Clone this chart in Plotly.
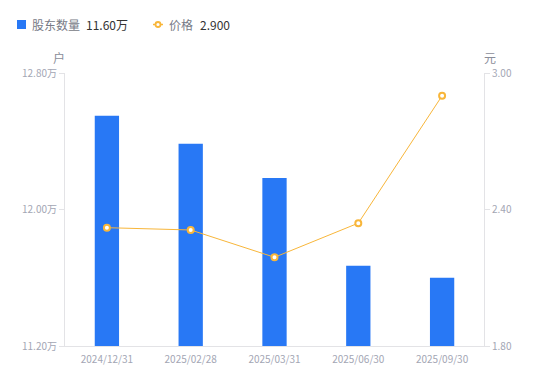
import plotly.graph_objects as go

categories = ["2024/12/31", "2025/02/28", "2025/03/31", "2025/06/30", "2025/09/30"]
holders = [12.55, 12.385, 12.185, 11.67, 11.60]   # 万户
price = [2.32, 2.31, 2.19, 2.34, 2.90]              # 元
left_ticks = [11.2, 12.0, 12.8]
left_labels = ["11.20万", "12.00万", "12.80万"]
right_ticks = [1.8, 2.4, 3.0]
right_labels = ["1.80", "2.40", "3.00"]

FONT = "Noto Sans CJK SC, Noto Sans, sans-serif"
TICK_COLOR = "#a3a6b4"
AXIS_LINE = "#e3e3e6"
BLUE = "#2878f5"
ORANGE = "#f8b63a"

OFF = 8  # page body margin in the browser
W, H = 550 - OFF, 381 - OFF
# plot area in screen pixels: x 65..484, y 73..346
L, T = 65 - OFF, 73 - OFF
R, B = W - (484 - OFF), H - (346 - OFF)
PW, PH = W - L - R, H - T - B


def px(x):
    return (x - OFF - L) / PW


def py(y):
    return (H - B - (y - OFF)) / PH


fig = go.Figure()
fig.add_trace(go.Bar(
    x=categories, y=holders, name="股东数量",
    marker=dict(color=BLUE, line=dict(width=0)), width=0.29, yaxis="y",
))
fig.add_trace(go.Scatter(
    x=categories, y=price, name="价格",
    mode="lines+markers", yaxis="y2", cliponaxis=False,
    line=dict(color=ORANGE, width=1),
    marker=dict(symbol="circle", size=6, color="white", line=dict(color=ORANGE, width=2)),
))

shapes = [
    dict(type="rect", xref="paper", yref="paper", x0=px(17), x1=px(26), y0=py(29), y1=py(20),
         fillcolor=BLUE, line=dict(width=0)),
    dict(type="line", xref="paper", yref="paper", x0=px(153), x1=px(163), y0=py(24.5), y1=py(24.5),
         line=dict(color=ORANGE, width=1.5)),
    dict(type="circle", xref="paper", yref="paper", x0=px(155.5), x1=px(160.5), y0=py(27), y1=py(22),
         fillcolor="white", line=dict(color=ORANGE, width=1.8)),
]


def ann(text, x, y, size, color, xanchor="left"):
    return dict(text=text, xref="paper", yref="paper", x=px(x), y=py(y), xanchor=xanchor,
                yanchor="middle", showarrow=False, font=dict(size=size, color=color, family=FONT))


annotations = [
    ann("股东数量", 30, 24.5, 12, "#777a86"),
    ann("11.60万", 84, 24.5, 12, "#333333"),
    ann("价格", 167, 24.5, 12, "#777a86"),
    ann("2.900", 198, 24.5, 12, "#333333"),
    ann("户", 59, 57, 12, "#8a8d99", "center"),
    ann("元", 490, 57, 12, "#8a8d99", "center"),
]

fig.update_layout(
    width=W, height=H,
    margin=dict(l=L, r=R, t=T, b=B, autoexpand=False),
    paper_bgcolor="white", plot_bgcolor="white",
    font=dict(family=FONT, size=11, color=TICK_COLOR),
    showlegend=False,
    bargap=0.7,
    shapes=shapes,
    annotations=annotations,
    xaxis=dict(showgrid=False, showline=True, linecolor=AXIS_LINE, linewidth=1,
               ticks="outside", ticklen=4, tickcolor="rgba(0,0,0,0)",
               tickfont=dict(size=10, color=TICK_COLOR), fixedrange=True),
    yaxis=dict(range=[11.2, 12.8], tickvals=left_ticks, ticktext=left_labels,
               showgrid=False, zeroline=False, showline=True, linecolor=AXIS_LINE,
               ticks="outside", ticklen=5, tickcolor=AXIS_LINE,
               tickfont=dict(size=10, color=TICK_COLOR)),
    yaxis2=dict(range=[1.8, 3.0], tickvals=right_ticks, ticktext=right_labels,
                overlaying="y", side="right", showgrid=False, zeroline=False,
                showline=True, linecolor=AXIS_LINE, ticks="outside", ticklen=5,
                tickcolor=AXIS_LINE, tickfont=dict(size=10, color=TICK_COLOR)),
)

fig.write_html("out.html")
